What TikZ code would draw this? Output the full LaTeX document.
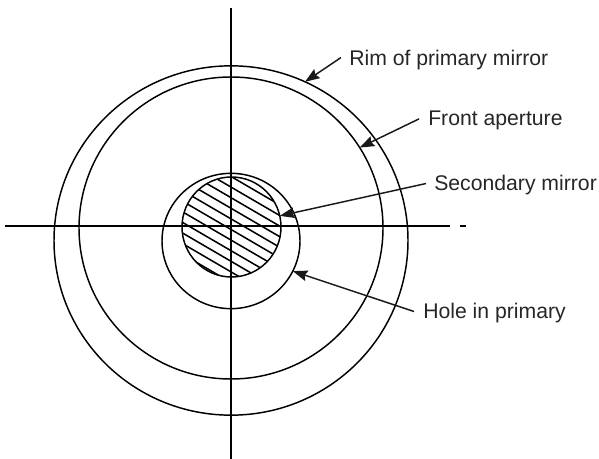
\documentclass[tikz,border=0pt]{standalone}
\usepackage{fontspec}
\setmainfont{Liberation Sans}
\usetikzlibrary{arrows.meta,shapes.geometric}
\tikzset{
    ring/.style={draw, ellipse, inner sep=0pt, outer sep=0pt, line width=1.1pt},
    lbl/.style={anchor=base west, inner sep=0pt, text=black!85, font=\fontsize{15.9}{18}\selectfont},
    pointer/.style={-{Stealth[length=11pt, width=8pt, inset=1.5pt]}, line width=1.1pt, black!90}
}
\begin{document}
\begin{tikzpicture}[x=0.75pt, y=-0.75pt]
        \useasboundingbox (0,0) rectangle (599,459);
        % Circles
        \draw (231,240.5) node[ring, minimum width=265.5pt, minimum height=262pt] (rim) {};
        \draw (231,228)   node[ring, minimum width=228pt, minimum height=226.5pt] (front) {};
        \draw (231,241)   node[ring, minimum width=103.5pt, minimum height=101.5pt] (hole) {};
        \draw (231.5,227) node[ring, minimum width=74.25pt, minimum height=75pt] (sec) {};

        % Hatching
        \begin{scope}
            \clip (231.5,227) circle [radius=49.5];
            \foreach \i in {-7,...,7}
                \draw[line width=1.15pt] (170,\i*10.6+193.9) -- (290,\i*10.6+263.9);
        \end{scope}

        % Axes
        \draw (231,8) coordinate (axtop);
        \draw (231,459) coordinate (axbot);
        \draw (5,226) coordinate (axleft);
        \draw (450,226) coordinate (axright);
        \draw (460,226) coordinate (dashA);
        \draw (466,226) coordinate (dashB);
        \draw[line width=1.1pt] (axtop) -- (axbot);
        \draw[line width=0.9pt] (axleft) -- (axright);
        \draw[line width=0.8pt] (dashA) -- (dashB);

        % Labels
        \draw (349,66) node[lbl] (rimtxt) {Rim of primary mirror};
        \draw (428,126)  node[lbl] (fronttxt) {Front aperture};
        \draw (434,191)  node[lbl] (sectxt) {Secondary mirror};
        \draw (423,319)  node[lbl] (holetxt) {Hole in primary};

        % Pointers
        \draw[pointer] (rimtxt.west) ++(-8,-3) -- (rim.65);
        \draw[pointer] (fronttxt.west) ++(-9,-2) -- (front.32);
        \draw[pointer] (sectxt.west) ++(-8,-2) -- (sec.13);
        \draw[pointer] (holetxt.west) ++(-9,-2) -- (hole.-26);
    \end{tikzpicture}
\end{document}
